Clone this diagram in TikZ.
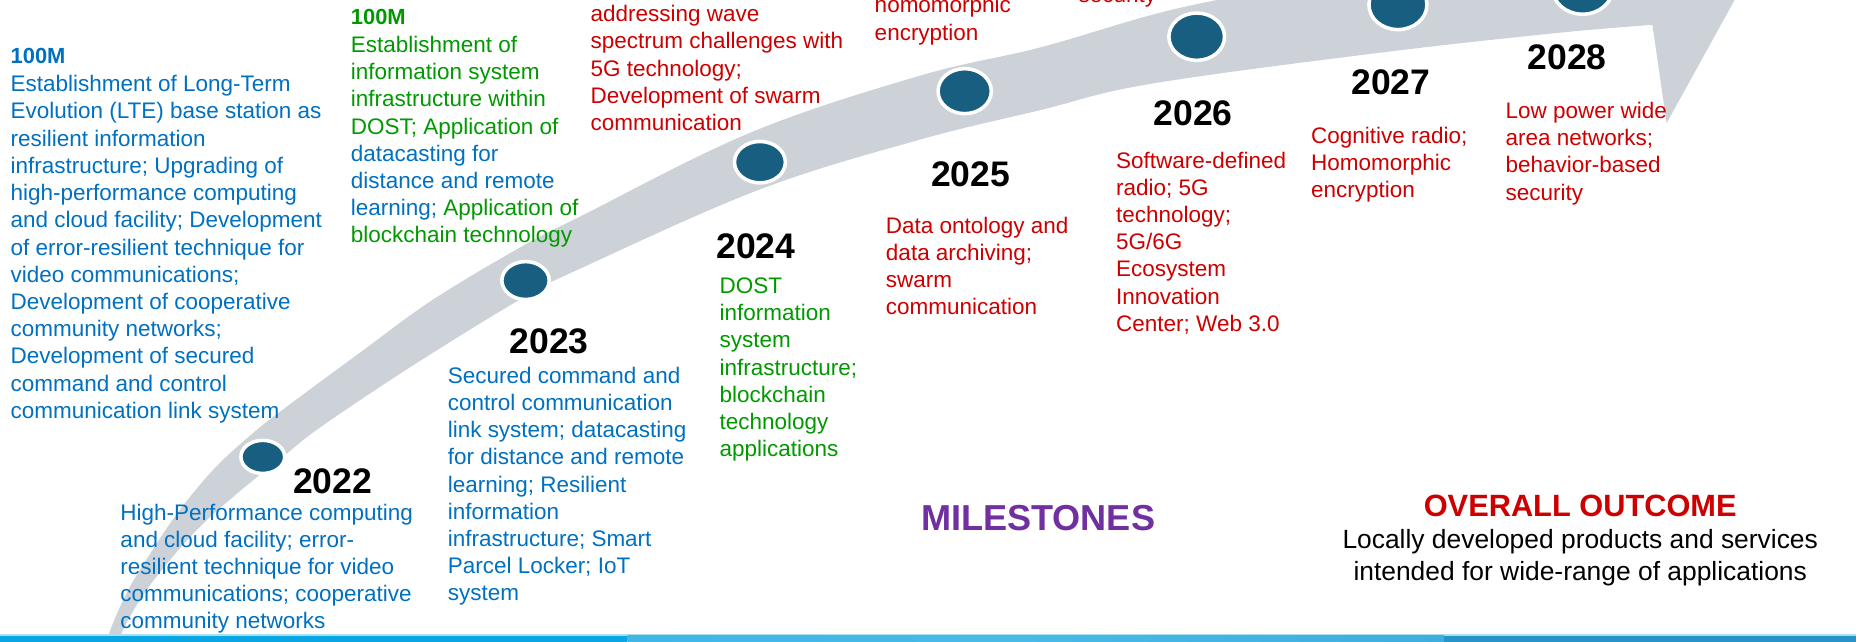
\documentclass[tikz,border=0pt]{standalone}
\usepackage{fontspec}
\setmainfont{Liberation Sans}
\usetikzlibrary{shapes.geometric}
\definecolor{tblue}{RGB}{0,112,192}
\definecolor{tgreen}{RGB}{0,153,0}
\definecolor{tred}{RGB}{204,0,0}
\definecolor{tpurple}{RGB}{112,48,160}
\definecolor{dotblue}{RGB}{23,94,128}
\definecolor{bandgray}{RGB}{205,210,216}
\definecolor{barA}{RGB}{8,166,226}
\definecolor{barB}{RGB}{72,186,230}
\definecolor{barC}{RGB}{39,148,198}
\definecolor{barline}{RGB}{170,221,242}
\newcommand\txtbody{\fontsize{19}{23}\selectfont}
\newcommand\txtyear{\fontsize{30}{36}\selectfont\bfseries}
\begin{document}
\begin{tikzpicture}[x=1pt,y=-1pt,
  body/.style={anchor=north west, inner sep=0pt, outer sep=0pt, align=left, font=\txtbody},
  yearlbl/.style={anchor=base, inner sep=0pt, outer sep=0pt, font=\txtyear, text=black},
  budget/.style={anchor=base west, inner sep=0pt, outer sep=0pt, font=\fontsize{18.5}{22}\selectfont\bfseries},
  dotnode/.style={ellipse, fill=dotblue, draw=white, line width=3pt, inner sep=0pt}
]
\useasboundingbox (0,0) rectangle (1568,542);

% curved band with arrow head
\fill[bandgray]
  plot[smooth, tension=0.6] coordinates {(80,580) (90,541) (107,501) (128,466) (151,432) (180,397) (210,369) (239,346) (304,298) (366,253) (443,207) (490,183) (634,112) (777,64) (879,40) (991,8) (1100,-12) (1250,-32) (1396,-45)}
  -- (1385,-150) -- (1482,-30) -- (1408,104) -- (1396,21)
  -- plot[smooth, tension=0.6] coordinates {(1396,21) (1314,28) (1162,45) (971,71) (879,93) (777,118) (642,160) (490,227) (441,252) (350,308) (272,360) (240,385) (205,413) (171,443) (142,475) (118,507) (100,541) (86,580)}
  -- cycle;

% bottom bar
\fill[barline] (0,535.8) rectangle (1568,537.2);
\fill[barA] (0,537.2) rectangle (530,542);
\shade[left color=barB!85!barA, right color=barB] (530,537.2) rectangle (860,542);
\shade[left color=barB, right color=barB!70!barC] (860,537.2) rectangle (1220,542);
\fill[barC] (1220,537.2) rectangle (1568,542);

% milestone dots
\node[dotnode, minimum width=37pt, minimum height=28pt] (d22) at (222,386) {};
\node[dotnode, minimum width=40pt, minimum height=32pt] (d23) at (444,237) {};
\node[dotnode, minimum width=43pt, minimum height=35pt] (d24) at (642,137) {};
\node[dotnode, minimum width=45pt, minimum height=38pt] (d25) at (815,77) {};
\node[dotnode, minimum width=47pt, minimum height=40pt] (d26) at (1011,31) {};
\node[dotnode, minimum width=49pt, minimum height=42pt] (d27) at (1181,4) {};
\node[dotnode, minimum width=51pt, minimum height=44pt] (d28) at (1337,-10) {};

% left column
\node[budget, text=tblue] (b1) at (9,54) {100M};
\node[body, text=tblue] (t1) at (9,61.4) {\strut Establishment of Long-Term\\
Evolution (LTE) base station as\\
resilient information\\
infrastructure; Upgrading of\\
high-performance computing\\
and cloud facility; Development\\
of error-resilient technique for\\
video communications;\\
Development of cooperative\\
community networks;\\
Development of secured\\
command and control\\
communication link system};

% upper green block
\node[budget, text=tgreen] (b2) at (296.5,21) {100M};
\node[body, text=tgreen] (t2) at (296.5,28.1) {\strut Establishment of\\
information system\\
infrastructure within\\
DOST; Application of\\
\textcolor{tblue}{datacasting for}\\
\textcolor{tblue}{distance and remote}\\
\textcolor{tblue}{learning;} Application of\\
blockchain technology};

% upper red blocks
\node[body, text=tred] (t3) at (499,2.2) {\strut addressing wave\\
spectrum challenges with\\
5G technology;\\
Development of swarm\\
communication};
\node[body, text=tred] (t4) at (739,-5.3) {\strut homomorphic\\encryption};
\node[anchor=base west, inner sep=0pt, font=\txtbody, text=tred] (t5) at (911,2.5) {security};

% 2022
\node[yearlbl] (y22) at (281,416.7) {2022};
\node[body, text=tblue] (t22) at (101.8,423.2) {\strut High-Performance computing\\
and cloud facility; error-\\
resilient technique for video\\
communications; cooperative\\
community networks};

% 2023
\node[yearlbl] (y23) at (464,298.4) {2023};
\node[body, text=tblue] (t23) at (378.3,307.6) {\strut Secured command and\\
control communication\\
link system; datacasting\\
for distance and remote\\
learning; Resilient\\
information\\
infrastructure; Smart\\
Parcel Locker; IoT\\
system};

% 2024
\node[yearlbl] (y24) at (638.5,218) {2024};
\node[body, text=tgreen] (t24) at (608,231.7) {\strut DOST\\
information\\
system\\
infrastructure;\\
blockchain\\
technology\\
applications};

% 2025
\node[yearlbl] (y25) at (820,157.7) {2025};
\node[body, text=tred] (t25) at (748.5,180.9) {\strut Data ontology and\\
data archiving;\\
swarm\\
communication};

% 2026
\node[yearlbl] (y26) at (1008,105.6) {2026};
\node[body, text=tred] (t26) at (943,125.9) {\strut Software-defined\\
radio; 5G\\
technology;\\
5G/6G\\
Ecosystem\\
Innovation\\
Center; Web 3.0};

% 2027
\node[yearlbl] (y27) at (1175,80) {2027};
\node[body, text=tred] (t27) at (1107.6,104.9) {\strut Cognitive radio;\\
Homomorphic\\
encryption};

% 2028
\node[yearlbl] (y28) at (1324,59) {2028};
\node[body, text=tred] (t28) at (1272,83.9) {\strut Low power wide\\
area networks;\\
behavior-based\\
security};

% titles
\node[anchor=base, inner sep=0pt, font=\fontsize{30.5}{36}\selectfont\bfseries, text=tpurple] (ms) at (877,447.8) {MILESTONES};
\node[anchor=base, inner sep=0pt, font=\fontsize{26}{31}\selectfont\bfseries, text=tred] (oo) at (1335,436) {OVERALL OUTCOME};
\node[anchor=north, inner sep=0pt, align=center, font=\fontsize{22.3}{27}\selectfont, text=black] (oot) at (1335,444.1) {\strut Locally developed products and services\\
intended for wide-range of applications};
\end{tikzpicture}
\end{document}
